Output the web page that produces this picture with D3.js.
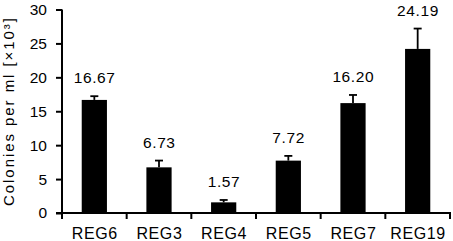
<!DOCTYPE html>
<html><head><meta charset="utf-8">
<script src="https://cdn.jsdelivr.net/npm/d3@7"></script>
<style>body{margin:0;background:#fff}svg{display:block}text{font-family:"Liberation Sans",Arial,sans-serif;fill:#000}</style>
</head><body><svg id="c" width="453" height="241"></svg>
<script>
const categories = ["REG6","REG3","REG4","REG5","REG7","REG19"];
const values = [16.67, 6.73, 1.57, 7.72, 16.20, 24.19];
const errors = [0.55, 1.0, 0.35, 0.7, 1.2, 3.0];
const valueLabels = ["16.67","6.73","1.57","7.72","16.20","24.19"];
const yTicks = [0,5,10,15,20,25,30];

const svg = d3.select("#c");
const mLeft = 62, mRight = 450, mTop = 9.5, mBottom = 213;
const x = d3.scaleBand().domain(categories).range([mLeft, mRight]).paddingInner(0).paddingOuter(0);
const y = d3.scaleLinear().domain([0,30]).range([mBottom, mTop]);
const bw = x.bandwidth()*0.39;

// bars
svg.selectAll("rect.bar").data(categories).enter().append("rect")
  .attr("x", (d)=>x(d)+x.bandwidth()/2-bw/2)
  .attr("y", (d,i)=>y(values[i]))
  .attr("width", bw)
  .attr("height", (d,i)=>y(0)-y(values[i]))
  .attr("fill","#000");

// error bars
const eb = svg.append("g").attr("stroke","#000").attr("stroke-width",1.8);
categories.forEach((d,i)=>{
  const cx = x(d)+x.bandwidth()/2;
  eb.append("line").attr("x1",cx).attr("x2",cx).attr("y1",y(values[i])).attr("y2",y(values[i]+errors[i]));
  eb.append("line").attr("x1",cx-4).attr("x2",cx+4).attr("y1",y(values[i]+errors[i])).attr("y2",y(values[i]+errors[i]));
});

// value labels
svg.selectAll("text.val").data(categories).enter().append("text")
  .attr("x",(d)=>x(d)+x.bandwidth()/2+0.3)
  .attr("y",(d,i)=>y(values[i]+errors[i])-13)
  .attr("text-anchor","middle").attr("font-size",15.5).attr("letter-spacing",0.6)
  .text((d,i)=>valueLabels[i]);

// y axis
const yg = svg.append("g").attr("transform",`translate(${mLeft},0)`)
  .call(d3.axisLeft(y).tickValues(yTicks).tickSize(6).tickPadding(9));
yg.select(".domain").attr("stroke-width",2).attr("d",`M0,${mBottom}V${mTop}`);
yg.selectAll(".tick line").attr("stroke-width",2);
yg.selectAll(".tick text").attr("font-size",15.5).style("font-family","Liberation Sans, Arial, sans-serif");

// x axis
const xg = svg.append("g").attr("transform",`translate(0,${mBottom})`);
xg.append("line").attr("x1",mLeft-6).attr("x2",mRight+1).attr("y1",0).attr("y2",0).attr("stroke","#000").attr("stroke-width",2);
const bounds = categories.map(d=>x(d)).concat([x(categories[categories.length-1])+x.bandwidth()]);
xg.selectAll("line.tk").data(bounds).enter().append("line")
  .attr("x1",d=>d).attr("x2",d=>d).attr("y1",0).attr("y2",6).attr("stroke","#000").attr("stroke-width",2);
xg.selectAll("text").data(categories).enter().append("text")
  .attr("x",d=>x(d)+x.bandwidth()/2+0.4).attr("y",26)
  .attr("text-anchor","middle").attr("font-size",16).attr("letter-spacing",0.6).text(d=>d);

// y title
svg.append("text").attr("transform",`translate(14,112) rotate(-90)`)
  .attr("text-anchor","middle").attr("font-size",15)
  .attr("textLength",188).attr("lengthAdjust","spacing")
  .text('Colonies per ml [×10³]');
</script></body></html>
